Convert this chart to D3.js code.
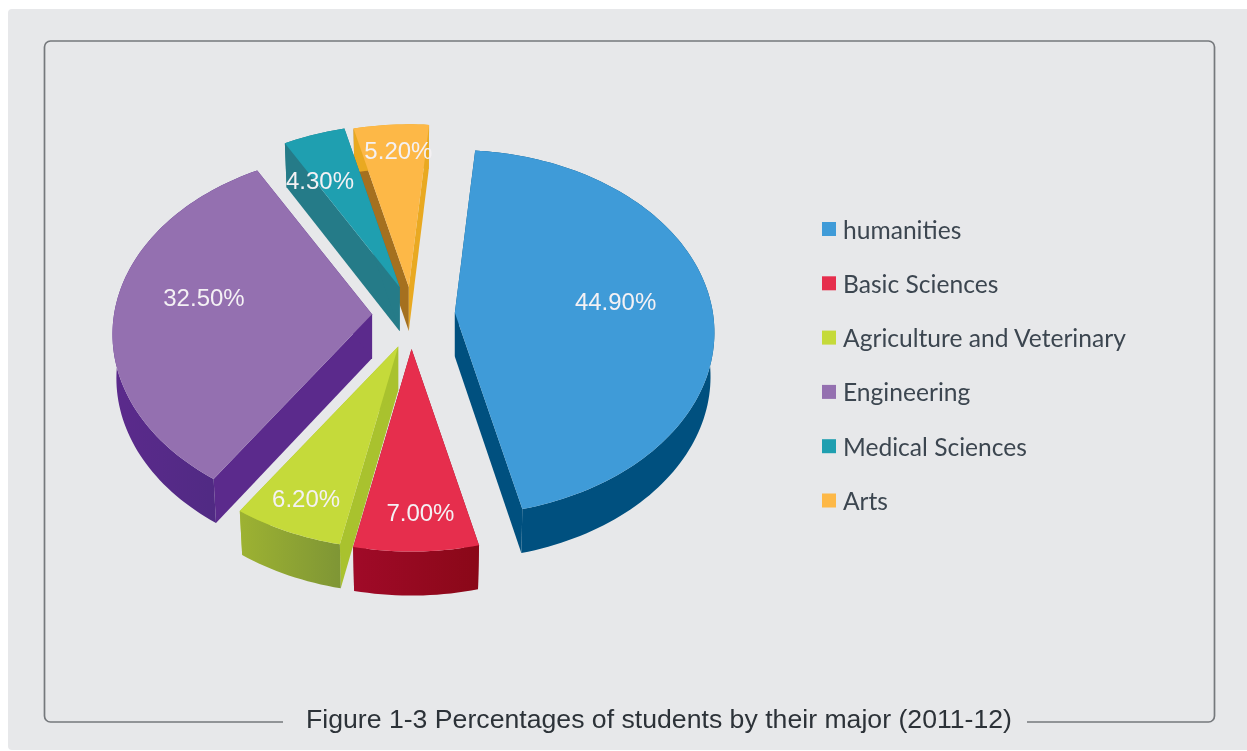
<!DOCTYPE html>
<html>
<head>
<meta charset="utf-8">
<script src="https://cdn.jsdelivr.net/npm/d3@7/dist/d3.min.js"></script>
<style>
html,body{margin:0;padding:0;background:#fff;overflow:hidden}
svg{display:block;filter:blur(0.5px)}
</style>
</head>
<body>
<svg id="chart" width="1247" height="751"></svg>
<script>
// ---- data ----
const categories = ["humanities", "Basic Sciences", "Agriculture and Veterinary", "Engineering", "Medical Sciences", "Arts"];
const shares = [44.9, 7.0, 6.2, 32.5, 4.3, 5.2];
const valueLabels = ["44.90%", "7.00%", "6.20%", "32.50%", "4.30%", "5.20%"];
const title = "Figure 1-3 Percentages of students by their major (2011-12)";

// ---- styles ----
const topColors   = ["#3f9bd8", "#e62e4d", "#c5da3a", "#9470b0", "#1f9fb0", "#fdb847"];
const rimColorsA  = ["#00507f", "#a00a28", "#9db232", "#5b2a8c", "#257b88", "#e9a921"];
const rimColorsB  = ["#00507f", "#8a0818", "#7f9635", "#4c2a80", "#257b88", "#e9a921"];
const startWalls  = ["#00507f", "#8f0a1e", "#a9c22e", "#5b2a8c", "#257b88", "#a5701f"];
const endWalls    = ["#00507f", "#8f0a1e", "#a9c22e", "#5b2a8c", "#257b88", "#e9a921"];

// ---- layout ----
const W = 1247, H = 751;
const centre = {x: 411, y: 316};
const explode = [44, 33, 33, 39, 31, 29];
const labelFrac = [0.62, 0.84, 0.86, 0.65, 0.75, 0.8];
const labelNudgeX = [2, 5, 2, -1, -14, 4];
const labelNudgeY = [-2, -3, -4, -11, 11, -4];
const rx = 258, ry = 180.5, persp = 0.109, depth = 44, bottomShrink = 0.985;
const rotation = 5.0 * Math.PI / 180;

const svg = d3.select("#chart");
svg.append("rect").attr("x", 8).attr("y", 9).attr("width", W + 10).attr("height", H - 10).attr("rx", 4).attr("fill", "#e7e8ea");

// frame, open at the bottom behind the caption
const fx0 = 44.5, fx1 = 1214.5, fy0 = 41, fy1 = 722, fr = 6;
const framePath = d3.path();
framePath.moveTo(283, fy1);
framePath.lineTo(fx0 + fr, fy1);
framePath.arcTo(fx0, fy1, fx0, fy1 - fr, fr);
framePath.lineTo(fx0, fy0 + fr);
framePath.arcTo(fx0, fy0, fx0 + fr, fy0, fr);
framePath.lineTo(fx1 - fr, fy0);
framePath.arcTo(fx1, fy0, fx1, fy0 + fr, fr);
framePath.lineTo(fx1, fy1 - fr);
framePath.arcTo(fx1, fy1, fx1 - fr, fy1, fr);
framePath.lineTo(1027, fy1);
svg.append("path").attr("d", framePath.toString()).attr("fill", "none").attr("stroke", "#75787c").attr("stroke-width", 1.7);

svg.append("text").attr("x", 306).attr("y", 727.5)
  .attr("font-family", "'Liberation Sans',Arial,sans-serif").attr("font-size", 26)
  .attr("fill", "#2c3238").attr("textLength", 706).attr("lengthAdjust", "spacingAndGlyphs")
  .text(title);

// ---- pie ----
const pie = d3.pie().sort(null).value(d => d)
  .startAngle(rotation).endAngle(rotation + 2 * Math.PI);
const arcs = pie(shares).map((a, i) => {
  const mid = (a.startAngle + a.endAngle) / 2;
  return {...a, i, mid, apex: {x: centre.x + explode[i] * Math.sin(mid), y: centre.y - explode[i] * Math.cos(mid)}};
});

// point on the slice's plate: angle clockwise from north, f = fraction of radius
function project(a, theta, f) {
  const X = f * Math.sin(theta), Z = f * Math.cos(theta);
  const s = 1 / (1 + persp * Z);
  return [a.apex.x + X * rx * s, a.apex.y - Z * ry * s];
}
function lower(a, p) {
  return [a.apex.x + (p[0] - a.apex.x) * bottomShrink, p[1] + depth];
}
const line = d3.line();
function rimPoints(a) {
  const n = Math.max(8, Math.ceil((a.endAngle - a.startAngle) * 40));
  return d3.range(n + 1).map(k => project(a, a.startAngle + (a.endAngle - a.startAngle) * k / n, 1));
}

const defs = svg.append("defs");
const ordered = arcs.slice().sort((p, q) => Math.cos(q.mid) - Math.cos(p.mid));
const gPie = svg.append("g");

ordered.forEach(a => {
  const i = a.i, rim = rimPoints(a), apexPt = [a.apex.x, a.apex.y];
  const xs = d3.extent(rim, p => p[0]);
  const gid = "rim" + i;
  const grad = defs.append("linearGradient").attr("id", gid).attr("gradientUnits", "userSpaceOnUse")
    .attr("x1", xs[0]).attr("x2", xs[1]).attr("y1", 0).attr("y2", 0);
  grad.append("stop").attr("offset", 0).attr("stop-color", rimColorsA[i]);
  grad.append("stop").attr("offset", 1).attr("stop-color", rimColorsB[i]);

  const g = gPie.append("g");
  // side walls
  const wall = (p, fill) => g.append("path")
    .attr("d", line([apexPt, p, lower(a, p), lower(a, apexPt)]) + "Z").attr("fill", fill);
  wall(rim[0], startWalls[i]);
  wall(rim[rim.length - 1], endWalls[i]);
  // outer wall
  g.append("path").attr("d", line(rim.concat(rim.slice().reverse().map(p => lower(a, p)))) + "Z")
    .attr("fill", "url(#" + gid + ")");
  // top face
  g.append("path").attr("d", line([apexPt].concat(rim)) + "Z").attr("fill", topColors[i]);
});

// value labels
svg.append("g").selectAll("text").data(arcs).join("text")
  .attr("x", a => project(a, a.mid, labelFrac[a.i])[0] + labelNudgeX[a.i])
  .attr("y", a => project(a, a.mid, labelFrac[a.i])[1] + 8 + labelNudgeY[a.i])
  .attr("text-anchor", "middle")
  .attr("font-family", "'Liberation Sans',Arial,sans-serif").attr("font-size", 24)
  .attr("fill", "#f4f1f4")
  .text(a => valueLabels[a.i]);

// ---- legend ----
const legendY = d3.scalePoint().domain(categories).range([229, 500.5]);
const legend = svg.append("g").selectAll("g").data(categories).join("g")
  .attr("transform", d => `translate(822,${legendY(d)})`);
legend.append("rect").attr("x", 0).attr("y", -7).attr("width", 14).attr("height", 14)
  .attr("fill", (d, i) => topColors[i]);
legend.append("text").attr("x", 21).attr("y", 9.5)
  .attr("font-family", "Lato,Carlito,sans-serif").attr("font-size", 24.6)
  .attr("fill", "#3c4650").text(d => d);
</script>
</body>
</html>
